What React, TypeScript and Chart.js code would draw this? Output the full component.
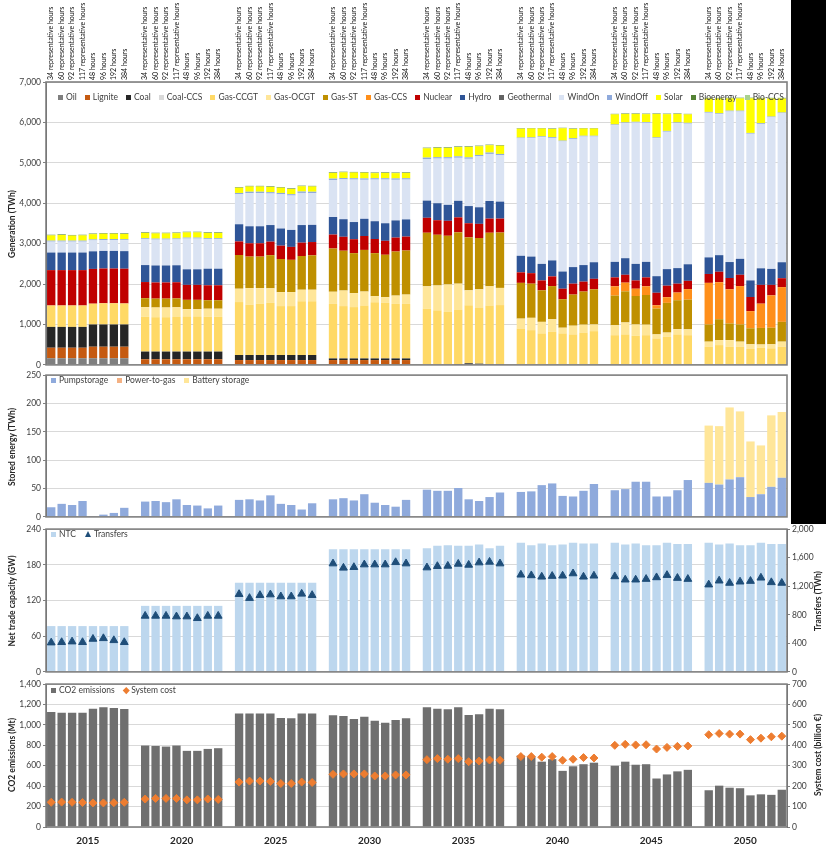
import React, { useEffect, useRef } from "react";
import { Chart, registerables } from "chart.js";

Chart.register(...registerables);

const FONT = "Lato, 'Open Sans', 'DejaVu Sans', sans-serif";

// ---------------- categories ----------------
const YEARS = ["2015", "2020", "2025", "2030", "2035", "2040", "2045", "2050"];
const SCENARIOS = [
  "34 representative hours",
  "60 representative hours",
  "92 representative hours",
  "117 representative hours",
  "48 hours",
  "96 hours",
  "192 hours",
  "384 hours",
];

// ---------------- generation (TWh), 8 scenarios per year ----------------
const OIL = [
  165, 165, 165, 165, 165, 165, 165, 165,
  0, 0, 0, 0, 0, 0, 0, 0,
  0, 0, 0, 0, 0, 0, 0, 0,
  0, 0, 0, 0, 0, 0, 0, 0,
  0, 0, 0, 0, 0, 0, 0, 0,
  0, 0, 0, 0, 0, 0, 0, 0,
  0, 0, 0, 0, 0, 0, 0, 0,
  0, 0, 0, 0, 0, 0, 0, 0,
];
const LIGNITE = [
  260, 260, 260, 260, 285, 285, 285, 285,
  140, 140, 140, 140, 140, 140, 140, 140,
  120, 120, 120, 120, 120, 120, 120, 120,
  120, 120, 120, 120, 120, 120, 120, 120,
  0, 0, 0, 0, 0, 0, 0, 0,
  0, 0, 0, 0, 0, 0, 0, 0,
  0, 0, 0, 0, 0, 0, 0, 0,
  0, 0, 0, 0, 0, 0, 0, 0,
];
const COAL = [
  515, 515, 515, 515, 550, 550, 550, 550,
  190, 190, 190, 190, 190, 190, 190, 190,
  125, 125, 125, 125, 125, 125, 125, 125,
  40, 40, 40, 40, 40, 40, 40, 40,
  0, 0, 0, 20, 40, 30, 20, 20,
  0, 0, 0, 0, 0, 0, 0, 0,
  0, 0, 0, 0, 0, 0, 0, 0,
  0, 0, 0, 0, 0, 0, 0, 0,
];
const GAS_CCGT = [
  530, 530, 530, 530, 515, 525, 525, 520,
  860, 850, 850, 855, 870, 870, 860, 860,
  1310, 1245, 1270, 1290, 1210, 1210, 1330, 1330,
  1350, 1295, 1270, 1310, 1390, 1375, 1350, 1350,
  1390, 1350, 1310, 1350, 1435, 1390, 1450, 1460,
  900, 860, 780, 820, 780, 755, 800, 835,
  735, 755, 720, 735, 655, 695, 755, 735,
  450, 490, 450, 450, 395, 425, 410, 450,
];
const GAS_OCGT = [
  0, 0, 0, 0, 0, 0, 0, 0,
  240, 240, 240, 240, 180, 180, 200, 200,
  330, 410, 385, 360, 345, 345, 285, 285,
  300, 385, 345, 345, 150, 140, 205, 230,
  555, 615, 680, 640, 370, 450, 475, 425,
  245, 305, 285, 310, 140, 215, 195, 165,
  245, 295, 280, 260, 100, 105, 130, 145,
  125, 125, 165, 125, 115, 80, 100, 125,
];
const GAS_ST = [
  0, 0, 0, 0, 0, 0, 0, 0,
  220, 220, 220, 220, 230, 230, 210, 210,
  835, 780, 780, 820, 820, 800, 835, 850,
  1070, 985, 990, 1030, 1065, 1050, 1090, 1090,
  1325, 1255, 1205, 1270, 1310, 1270, 1325, 1370,
  885, 845, 780, 820, 705, 770, 820, 870,
  735, 770, 705, 735, 640, 735, 715, 735,
  425, 515, 410, 425, 395, 410, 410, 490,
];
const GAS_CCS = [
  0, 0, 0, 0, 0, 0, 0, 0,
  0, 0, 0, 0, 0, 0, 0, 0,
  0, 0, 0, 0, 0, 0, 0, 0,
  0, 0, 0, 0, 0, 0, 0, 0,
  0, 0, 0, 0, 0, 0, 0, 0,
  0, 0, 0, 0, 0, 0, 0, 0,
  230, 215, 180, 215, 80, 140, 190, 260,
  1030, 915, 845, 950, 425, 600, 800, 860,
];
const NUCLEAR = [
  875, 875, 875, 875, 860, 860, 860, 860,
  400, 400, 400, 400, 370, 370, 370, 370,
  335, 330, 330, 335, 330, 320, 330, 330,
  345, 345, 345, 345, 350, 345, 345, 345,
  370, 360, 370, 370, 350, 350, 350, 345,
  260, 260, 245, 240, 260, 270, 245, 260,
  220, 195, 205, 220, 310, 285, 220, 205,
  220, 260, 280, 280, 350, 465, 260, 220,
];
const HYDRO = [
  435, 435, 435, 435, 435, 435, 435, 435,
  420, 420, 420, 420, 385, 385, 410, 410,
  425, 420, 420, 410, 425, 420, 435, 425,
  435, 435, 425, 425, 440, 435, 425, 425,
  425, 420, 395, 410, 425, 410, 435, 420,
  410, 410, 410, 395, 425, 410, 410, 410,
  385, 410, 410, 385, 410, 410, 385, 410,
  410, 410, 395, 395, 410, 410, 395, 395,
];
const WIND_ON = [
  270, 270, 270, 270, 270, 270, 270, 270,
  640, 640, 640, 640, 760, 760, 730, 730,
  740, 820, 820, 780, 845, 850, 795, 785,
  915, 985, 1050, 965, 1030, 1080, 1005, 985,
  1030, 1105, 1145, 1065, 1170, 1260, 1165, 1145,
  2905, 2930, 3135, 3030, 3220, 3170, 3180, 3110,
  3380, 3340, 3495, 3440, 3415, 3400, 3585, 3480,
  3580, 3490, 3725, 3645, 3630, 3570, 3750, 3685,
];
const WIND_OFF = [
  25, 25, 25, 25, 25, 25, 25, 25,
  25, 25, 25, 25, 25, 25, 25, 25,
  35, 35, 35, 35, 35, 35, 35, 35,
  35, 35, 35, 35, 35, 35, 35, 35,
  35, 35, 35, 35, 35, 35, 35, 35,
  20, 20, 20, 20, 20, 20, 20, 20,
  20, 20, 20, 20, 20, 20, 20, 20,
  20, 20, 20, 20, 20, 20, 20, 20,
];
const SOLAR = [
  130, 140, 125, 130, 130, 130, 130, 130,
  130, 130, 130, 130, 130, 130, 130, 130,
  130, 130, 130, 130, 130, 130, 130, 130,
  140, 140, 140, 140, 125, 130, 130, 130,
  230, 230, 230, 230, 260, 215, 180, 205,
  220, 220, 195, 205, 305, 230, 180, 180,
  250, 210, 195, 195, 580, 415, 210, 210,
  330, 365, 305, 305, 855, 610, 445, 345,
];
const BIOENERGY = [
  15, 15, 15, 15, 15, 15, 15, 15,
  15, 15, 15, 15, 15, 15, 15, 15,
  15, 15, 15, 15, 15, 15, 15, 15,
  15, 15, 15, 15, 15, 15, 15, 15,
  15, 15, 15, 15, 15, 15, 15, 15,
  12, 12, 12, 12, 12, 12, 12, 12,
  12, 12, 12, 12, 12, 12, 12, 12,
  12, 12, 12, 12, 12, 12, 12, 12,
];
const BIO_CCS = [
  0, 0, 0, 0, 0, 0, 0, 0,
  0, 0, 0, 0, 0, 0, 0, 0,
  0, 0, 0, 0, 0, 0, 0, 0,
  0, 0, 0, 0, 0, 0, 0, 0,
  0, 0, 0, 0, 0, 0, 0, 0,
  0, 0, 0, 0, 0, 0, 0, 0,
  0, 0, 0, 0, 0, 0, 0, 0,
  10, 10, 10, 10, 10, 10, 10, 10,
];

// ---------------- stored energy (TWh) ----------------
const PUMPSTORAGE = [
  17, 23, 21, 28, 1, 4, 7, 16,
  27, 28, 26, 31, 21, 20, 15, 20,
  30, 31, 29, 38, 23, 21, 13, 24,
  31, 33, 29, 40, 25, 21, 18, 30,
  48, 46, 46, 51, 31, 28, 35, 43,
  44, 45, 56, 59, 37, 36, 46, 58,
  47, 49, 62, 62, 36, 36, 47, 65,
  60, 57, 66, 70, 35, 40, 53, 69,
];
const BATTERY = [
  0, 0, 0, 0, 0, 0, 0, 0,
  0, 0, 0, 0, 0, 0, 0, 0,
  0, 0, 0, 0, 0, 0, 0, 0,
  0, 0, 0, 0, 0, 0, 0, 0,
  0, 0, 0, 0, 0, 0, 0, 0,
  0, 0, 0, 0, 0, 0, 0, 0,
  0, 0, 0, 0, 0, 0, 0, 0,
  101, 103, 127, 116, 98, 86, 126, 116,
];

// ---------------- trade ----------------
const NTC = [
  77, 77, 77, 77, 77, 77, 77, 77,
  111, 111, 111, 111, 111, 111, 111, 111,
  150, 150, 150, 150, 150, 150, 150, 150,
  206, 206, 206, 206, 206, 206, 206, 206,
  208, 212, 213, 212, 212, 214, 208, 212,
  217, 213, 216, 213, 214, 217, 216, 216,
  217, 214, 216, 213, 213, 217, 215, 215,
  217, 214, 216, 213, 213, 217, 215, 215,
];
const TRANSFERS = [
  410, 415, 424, 415, 461, 470, 442, 415,
  784, 784, 784, 775, 775, 751, 784, 784,
  1088, 1033, 1074, 1083, 1056, 1056, 1093, 1074,
  1517, 1457, 1466, 1503, 1503, 1503, 1535, 1517,
  1461, 1480, 1484, 1512, 1498, 1531, 1540, 1517,
  1360, 1351, 1332, 1342, 1346, 1378, 1332, 1346,
  1337, 1291, 1291, 1300, 1323, 1355, 1314, 1300,
  1222, 1277, 1245, 1263, 1272, 1318, 1254, 1245,
];

// ---------------- emissions & cost ----------------
const CO2 = [
  1127, 1120, 1120, 1120, 1159, 1172, 1166, 1156,
  798, 794, 788, 798, 746, 746, 765, 772,
  1113, 1113, 1113, 1113, 1068, 1065, 1113, 1113,
  1094, 1087, 1058, 1081, 1042, 1022, 1048, 1065,
  1172, 1159, 1153, 1172, 1097, 1104, 1159, 1153,
  700, 690, 640, 665, 550, 595, 615, 630,
  600, 640, 610, 615, 475, 515, 545, 560,
  360, 405, 385, 380, 310, 320, 315, 365,
];
const SYSTEM_COST = [
  121, 122, 121, 120, 118, 118, 119, 121,
  137, 140, 140, 140, 133, 133, 137, 135,
  220, 225, 225, 223, 213, 213, 220, 218,
  258, 260, 260, 260, 250, 250, 255, 255,
  330, 335, 332, 335, 320, 323, 328, 327,
  345, 345, 342, 345, 327, 332, 340, 338,
  400, 405, 402, 403, 382, 390, 395, 397,
  452, 458, 455, 455, 428, 435, 442, 445,
];

// ---------------- helpers ----------------
function withGaps<T>(vals: T[], gap: T): T[] {
  const out: T[] = [];
  YEARS.forEach((_, g) => {
    if (g > 0) out.push(gap);
    for (let s = 0; s < SCENARIOS.length; s++) out.push(vals[g * SCENARIOS.length + s]);
  });
  return out;
}
const CATS: string[] = withGaps(YEARS.flatMap(() => SCENARIOS), "");

const GEN_STYLE: { label: string; color: string; data: number[] | null }[] = [
  { label: "Oil", color: "#7F7F7F", data: OIL },
  { label: "Lignite", color: "#C55A11", data: LIGNITE },
  { label: "Coal", color: "#262626", data: COAL },
  { label: "Coal-CCS", color: "#D9D9D9", data: null },
  { label: "Gas-CCGT", color: "#FFD966", data: GAS_CCGT },
  { label: "Gas-OCGT", color: "#FFE699", data: GAS_OCGT },
  { label: "Gas-ST", color: "#BF9000", data: GAS_ST },
  { label: "Gas-CCS", color: "#FF8F1A", data: GAS_CCS },
  { label: "Nuclear", color: "#C00000", data: NUCLEAR },
  { label: "Hydro", color: "#2F5597", data: HYDRO },
  { label: "Geothermal", color: "#636363", data: null },
  { label: "WindOn", color: "#DAE3F3", data: WIND_ON },
  { label: "WindOff", color: "#8FAADC", data: WIND_OFF },
  { label: "Solar", color: "#FFFF00", data: SOLAR },
  { label: "Bioenergy", color: "#548235", data: BIOENERGY },
  { label: "Bio-CCS", color: "#A9D18E", data: BIO_CCS },
];

const PLOT_LEFT = 46;
const PLOT_RIGHT = 787;
const CANVAS_W = 826;

const framePlugin = {
  id: "frame",
  afterDraw(chart: any) {
    const { ctx, chartArea: a } = chart;
    ctx.save();
    ctx.strokeStyle = "#808080";
    ctx.lineWidth = 1.6;
    ctx.strokeRect(a.left, a.top, a.right - a.left, a.bottom - a.top);
    ctx.restore();
  },
};

const topLabelsPlugin = {
  id: "topLabels",
  afterDraw(chart: any) {
    const { ctx, chartArea } = chart;
    const xs = chart.scales.x;
    ctx.save();
    ctx.font = `7px ${FONT}`;
    ctx.fillStyle = "#111";
    ctx.textAlign = "left";
    ctx.textBaseline = "middle";
    CATS.forEach((lab, i) => {
      if (!lab) return;
      const px = xs.getPixelForValue(i);
      ctx.save();
      ctx.translate(px, chartArea.top - 2);
      ctx.rotate(-Math.PI / 2);
      ctx.fillText(lab, 0, 0);
      ctx.restore();
    });
    ctx.restore();
  },
};

const yearLabelsPlugin = {
  id: "yearLabels",
  afterDraw(chart: any) {
    const { ctx, chartArea } = chart;
    const xs = chart.scales.x;
    const n = SCENARIOS.length;
    ctx.save();
    ctx.font = `bold 10px ${FONT}`;
    ctx.fillStyle = "#262626";
    ctx.textAlign = "center";
    ctx.textBaseline = "middle";
    YEARS.forEach((yr, g) => {
      const first = g * (n + 1);
      const last = first + n - 1;
      const cx = (xs.getPixelForValue(first) + xs.getPixelForValue(last)) / 2;
      ctx.fillText(yr, cx, chartArea.bottom + 14);
    });
    ctx.restore();
  },
};

function leftAxis(max: number, step: number, stacked: boolean) {
  return {
    type: "linear",
    position: "left",
    stacked,
    min: 0,
    max,
    ticks: { stepSize: step, font: { family: FONT, size: 8.5 }, color: "#404040", padding: 2 },
    grid: { color: "#D9D9D9", tickLength: 3, tickColor: "#7F7F7F" },
    border: { display: true, color: "#595959", width: 1 },
    afterFit: (s: any) => {
      s.width = PLOT_LEFT;
    },
  };
}

function rightAxis(max: number, step: number) {
  return {
    type: "linear",
    position: "right",
    min: 0,
    max,
    ticks: { stepSize: step, font: { family: FONT, size: 8.5 }, color: "#404040", padding: 2 },
    grid: { drawOnChartArea: false, tickLength: 3, tickColor: "#7F7F7F" },
    border: { display: true, color: "#595959", width: 1 },
    afterFit: (s: any) => {
      s.width = CANVAS_W - PLOT_RIGHT;
    },
  };
}

function baseOptions(padTop: number, padBottom: number, padRight: number, scales: any) {
  return {
    responsive: false,
    animation: false,
    locale: "en-US",
    layout: { padding: { left: 0, right: padRight, top: padTop, bottom: padBottom } },
    plugins: { legend: { display: false }, tooltip: { enabled: false } },
    scales: {
      x: { type: "category", labels: CATS, display: false, offset: true, stacked: true, grid: { display: false } },
      ...scales,
    },
  };
}

const BAR = { barPercentage: 0.8, categoryPercentage: 1.0, borderWidth: 0 };

type Marker = "square" | "triangle" | "diamond";

function LegendRow(props: {
  items: { label: string; color: string; marker?: Marker }[];
  left: number;
  top: number;
  width?: number;
  gap?: number;
  justify: string;
}) {
  const { items, left, top, width, gap, justify } = props;
  return (
    <div
      style={{
        position: "absolute",
        left,
        top,
        width,
        display: "flex",
        justifyContent: justify,
        alignItems: "center",
        gap: gap ?? 0,
        font: `8.5px ${FONT}`,
        color: "#404040",
        lineHeight: "10px",
        whiteSpace: "nowrap",
      }}
    >
      {items.map((it) => (
        <div key={it.label} style={{ display: "flex", alignItems: "center" }}>
          {it.marker === "triangle" ? (
            <div
              style={{
                width: 0,
                height: 0,
                borderLeft: "3.5px solid transparent",
                borderRight: "3.5px solid transparent",
                borderBottom: `6px solid ${it.color}`,
              }}
            />
          ) : it.marker === "diamond" ? (
            <div style={{ width: 4.5, height: 4.5, background: it.color, transform: "rotate(45deg)" }} />
          ) : (
            <div style={{ width: 5, height: 5, background: it.color }} />
          )}
          <span style={{ marginLeft: 3 }}>{it.label}</span>
        </div>
      ))}
    </div>
  );
}

function AxisTitle(props: { text: string; x: number; y: number }) {
  return (
    <div
      style={{
        position: "absolute",
        left: props.x,
        top: props.y,
        transform: "translate(-50%, -50%) rotate(-90deg)",
        font: `bold 8.5px ${FONT}`,
        color: "#262626",
        whiteSpace: "nowrap",
      }}
    >
      {props.text}
    </div>
  );
}

const PANELS = [
  { top: 0, height: 372, chartTop: 82, chartBottom: 367 },
  { top: 368, height: 156, chartTop: 375, chartBottom: 519 },
  { top: 522, height: 157, chartTop: 529, chartBottom: 674 },
  { top: 677, height: 173, chartTop: 684, chartBottom: 827 },
];

export default function App() {
  const r1 = useRef<HTMLCanvasElement>(null);
  const r2 = useRef<HTMLCanvasElement>(null);
  const r3 = useRef<HTMLCanvasElement>(null);
  const r4 = useRef<HTMLCanvasElement>(null);

  useEffect(() => {
    const charts: Chart[] = [];
    const pad = (i: number) => {
      const p = PANELS[i];
      return [p.chartTop - p.top, p.top + p.height - p.chartBottom];
    };

    // Panel 1: generation
    {
      const [pt, pb] = pad(0);
      const datasets = GEN_STYLE.filter((s) => s.data).map((s) => ({
        label: s.label,
        data: withGaps(s.data as number[], null as any),
        backgroundColor: s.color,
        ...BAR,
      }));
      charts.push(
        new Chart(r1.current!, {
          type: "bar",
          data: { labels: CATS, datasets },
          options: baseOptions(pt, pb, CANVAS_W - PLOT_RIGHT, { y: leftAxis(7000, 1000, true) }) as any,
          plugins: [framePlugin, topLabelsPlugin],
        })
      );
    }

    // Panel 2: stored energy
    {
      const [pt, pb] = pad(1);
      charts.push(
        new Chart(r2.current!, {
          type: "bar",
          data: {
            labels: CATS,
            datasets: [
              { label: "Pumpstorage", data: withGaps(PUMPSTORAGE, null as any), backgroundColor: "#8FAADC", ...BAR },
              { label: "Battery storage", data: withGaps(BATTERY, null as any), backgroundColor: "#FFE699", ...BAR },
            ],
          },
          options: baseOptions(pt, pb, CANVAS_W - PLOT_RIGHT, { y: leftAxis(250, 50, true) }) as any,
          plugins: [framePlugin],
        })
      );
    }

    // Panel 3: NTC & transfers
    {
      const [pt, pb] = pad(2);
      charts.push(
        new Chart(r3.current!, {
          type: "bar",
          data: {
            labels: CATS,
            datasets: [
              {
                type: "line",
                label: "Transfers",
                data: withGaps(TRANSFERS, null as any),
                yAxisID: "y1",
                showLine: false,
                pointStyle: "triangle",
                pointRadius: 4.5,
                backgroundColor: "#1F4E79",
                borderColor: "#1F4E79",
                borderWidth: 1,
              } as any,
              { label: "NTC", data: withGaps(NTC, null as any), backgroundColor: "#BDD7EE", yAxisID: "y", ...BAR },
            ],
          },
          options: baseOptions(pt, pb, 0, { y: leftAxis(240, 60, false), y1: rightAxis(2000, 400) }) as any,
          plugins: [framePlugin],
        })
      );
    }

    // Panel 4: CO2 & system cost
    {
      const [pt, pb] = pad(3);
      charts.push(
        new Chart(r4.current!, {
          type: "bar",
          data: {
            labels: CATS,
            datasets: [
              {
                type: "line",
                label: "System cost",
                data: withGaps(SYSTEM_COST, null as any),
                yAxisID: "y1",
                showLine: false,
                pointStyle: "rectRot",
                pointRadius: 4,
                backgroundColor: "#ED7D31",
                borderColor: "#ED7D31",
                borderWidth: 1,
              } as any,
              { label: "CO2 emissions", data: withGaps(CO2, null as any), backgroundColor: "#6F6F6F", yAxisID: "y", ...BAR },
            ],
          },
          options: baseOptions(pt, pb, 0, { y: leftAxis(1400, 200, false), y1: rightAxis(700, 100) }) as any,
          plugins: [framePlugin, yearLabelsPlugin],
        })
      );
    }

    return () => charts.forEach((c) => c.destroy());
  }, []);

  const refs = [r1, r2, r3, r4];

  return (
    <div
      style={{
        position: "absolute",
        left: 0,
        top: 0,
        width: CANVAS_W,
        height: 850,
        background: "#fff",
        overflow: "hidden",
        fontFamily: FONT,
      }}
    >
      {PANELS.map((p, i) => (
        <canvas
          key={i}
          ref={refs[i]}
          width={CANVAS_W}
          height={p.height}
          style={{ position: "absolute", left: 0, top: p.top, width: CANVAS_W, height: p.height }}
        />
      ))}

      <div style={{ position: "absolute", left: 791, top: 0, width: 35, height: 524, background: "#000" }} />

      <LegendRow
        items={GEN_STYLE.map((s) => ({ label: s.label, color: s.color }))}
        left={58}
        top={92}
        width={726}
        justify="space-between"
      />
      <LegendRow
        items={[
          { label: "Pumpstorage", color: "#8FAADC" },
          { label: "Power-to-gas", color: "#F4B183" },
          { label: "Battery storage", color: "#FFE699" },
        ]}
        left={51}
        top={375}
        gap={9}
        justify="flex-start"
      />
      <LegendRow
        items={[
          { label: "NTC", color: "#BDD7EE" },
          { label: "Transfers", color: "#1F4E79", marker: "triangle" },
        ]}
        left={51}
        top={529}
        gap={9}
        justify="flex-start"
      />
      <LegendRow
        items={[
          { label: "CO2 emissions", color: "#6F6F6F" },
          { label: "System cost", color: "#ED7D31", marker: "diamond" },
        ]}
        left={51}
        top={685}
        gap={9}
        justify="flex-start"
      />

      <AxisTitle text="Generation (TWh)" x={12} y={224} />
      <AxisTitle text="Stored energy (TWh)" x={12} y={447} />
      <AxisTitle text="Net trade capacity (GW)" x={12} y={601} />
      <AxisTitle text="CO2 emissions (Mt)" x={12} y={755} />
      <AxisTitle text="Transfers (TWh)" x={818} y={601} />
      <AxisTitle text="System cost (billion €)" x={818} y={755} />
    </div>
  );
}
